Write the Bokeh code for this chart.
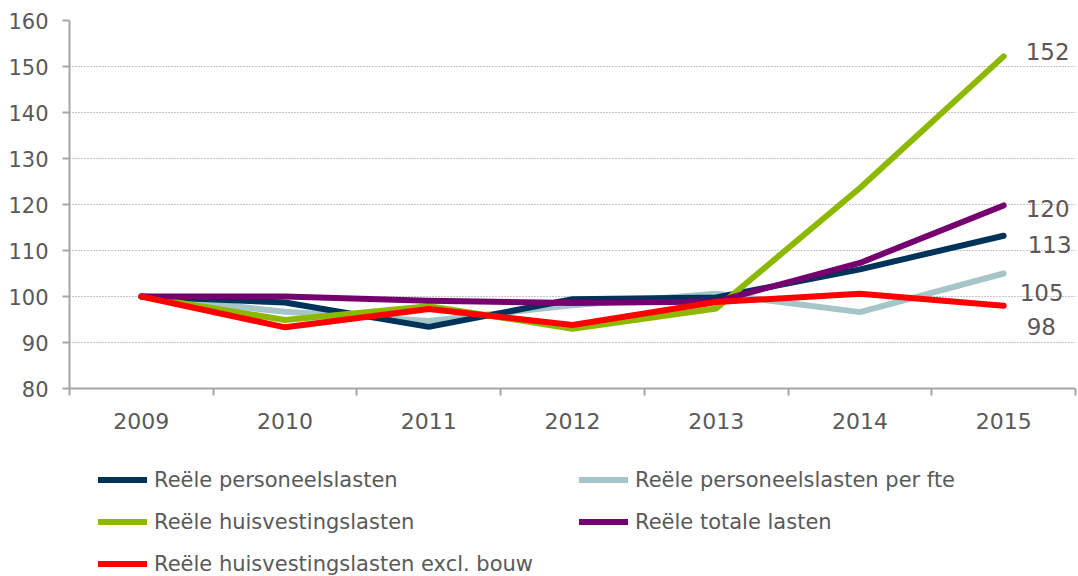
from bokeh.plotting import figure
from bokeh.layouts import column
from bokeh.models import (ColumnDataSource, FixedTicker, Range1d, Legend, LegendItem)
from bokeh.core.properties import value
from bokeh.embed import file_html
from bokeh.resources import INLINE

# ---- data ----
years = ["2009", "2010", "2011", "2012", "2013", "2014", "2015"]
personeelslasten = [100, 98.7, 93.4, 99.4, 99.8, 105.9, 113.2]
personeelslasten_fte = [100, 96.7, 94.7, 98.1, 100.6, 96.6, 105.0]
huisvestingslasten = [100, 94.9, 97.9, 93.0, 97.4, 123.6, 152.2]
totale_lasten = [100, 100.0, 99.1, 98.6, 98.9, 107.3, 119.8]
huisvesting_excl_bouw = [100, 93.3, 97.3, 93.8, 98.8, 100.6, 98.0]
y_ticks = [80, 90, 100, 110, 120, 130, 140, 150, 160]

series_names = ["Reële personeelslasten", "Reële personeelslasten per fte",
                "Reële huisvestingslasten", "Reële totale lasten",
                "Reële huisvestingslasten excl. bouw"]
series_values = [personeelslasten, personeelslasten_fte, huisvestingslasten,
                 totale_lasten, huisvesting_excl_bouw]
colors = ["#003359", "#a5c5c9", "#8cb800", "#760070", "#ff0000"]
draw_order = [1, 0, 2, 3, 4]
# label offsets (pixels) for end labels
label_dx = [24, 16, 22, 22, 23]
label_dy = [9, 19, -5, 3, 21]

FONT = "DejaVu Sans"
TXT = "#595959"
AX = "#a6a6a6"

xs = [i + 0.5 for i in range(len(years))]

p = figure(width=1078, height=450, output_backend="svg", toolbar_location=None,
           x_range=Range1d(0, len(years)), y_range=Range1d(80, 160),
           min_border_left=69, min_border_top=20, min_border_right=3,
           min_border_bottom=62)
p.outline_line_color = None
p.background_fill_color = "white"
p.border_fill_color = "white"

# axes
p.xaxis.ticker = FixedTicker(ticks=xs, minor_ticks=list(range(len(years) + 1)))
p.xaxis.major_label_overrides = {x: y for x, y in zip(xs, years)}
p.xaxis.major_tick_out = 0
p.xaxis.major_tick_in = 0
p.xaxis.minor_tick_out = 7
p.xaxis.minor_tick_in = 0
p.xaxis.minor_tick_line_color = AX
p.xaxis.axis_line_color = AX
p.xaxis.axis_line_width = 2
p.xaxis.minor_tick_line_width = 2
p.xaxis.major_label_text_font = FONT
p.xaxis.major_label_text_font_size = "22px"
p.xaxis.major_label_text_color = TXT
p.xaxis.major_label_standoff = 17

p.yaxis.ticker = FixedTicker(ticks=y_ticks, minor_ticks=[])
p.yaxis.major_tick_out = 7
p.yaxis.major_tick_in = 0
p.yaxis.major_tick_line_color = AX
p.yaxis.major_tick_line_width = 2
p.yaxis.axis_line_color = AX
p.yaxis.axis_line_width = 2
p.yaxis.major_label_text_font = FONT
p.yaxis.major_label_text_font_size = "21px"
p.yaxis.major_label_text_color = TXT
p.yaxis.major_label_standoff = 14

p.xgrid.grid_line_color = None
p.ygrid.grid_line_color = "#8c8c8c"
p.ygrid.grid_line_dash = "1 2"
p.ygrid.grid_line_width = 1

for i in draw_order:
    p.line(xs, series_values[i], line_color=colors[i], line_width=6,
           line_cap="round", line_join="round")

# end labels
lab_src = ColumnDataSource(dict(
    x=[xs[-1]] * len(series_values),
    y=[v[-1] for v in series_values],
    t=[str(int(round(v[-1]))) for v in series_values],
    dx=label_dx, dy=label_dy))
p.text(x="x", y="y", text="t", source=lab_src, x_offset="dx", y_offset="dy",
       text_font=value(FONT), text_font_size="23px", text_color="#5f5657",
       text_align="left", text_baseline="middle")

# ---- legend panel below the chart ----
lg = figure(width=1078, height=126, output_backend="svg", toolbar_location=None,
            x_range=Range1d(0, len(years)), y_range=Range1d(0, 1),
            x_axis_location=None, y_axis_location=None, min_border=0)
lg.grid.visible = False
lg.outline_line_color = None
lg.background_fill_color = "white"
lg.border_fill_color = "white"

lg_renderers = []
for i in range(len(series_names)):
    # same series; out of this panel's view, only their legend swatches show
    r = lg.line(xs, series_values[i], line_color=colors[i], line_width=6,
                line_cap="round")
    lg_renderers.append(r)

legend = Legend(items=[LegendItem(label=series_names[i], renderers=[lg_renderers[i]])
                       for i in range(len(series_names))],
                location=(29, 0), orientation="horizontal", ncols=2)
legend.label_text_font = FONT
legend.label_text_font_size = "21px"
legend.label_text_color = TXT
legend.glyph_width = 49
legend.glyph_height = 25
legend.label_height = 25
legend.label_width = 408
legend.label_standoff = 7
legend.spacing = 17
legend.padding = 0
legend.margin = 0
legend.border_line_alpha = 0
legend.background_fill_alpha = 0
lg.add_layout(legend, "center")

layout = column(p, lg, spacing=0)
open("out.html", "w").write(file_html(layout, INLINE))
